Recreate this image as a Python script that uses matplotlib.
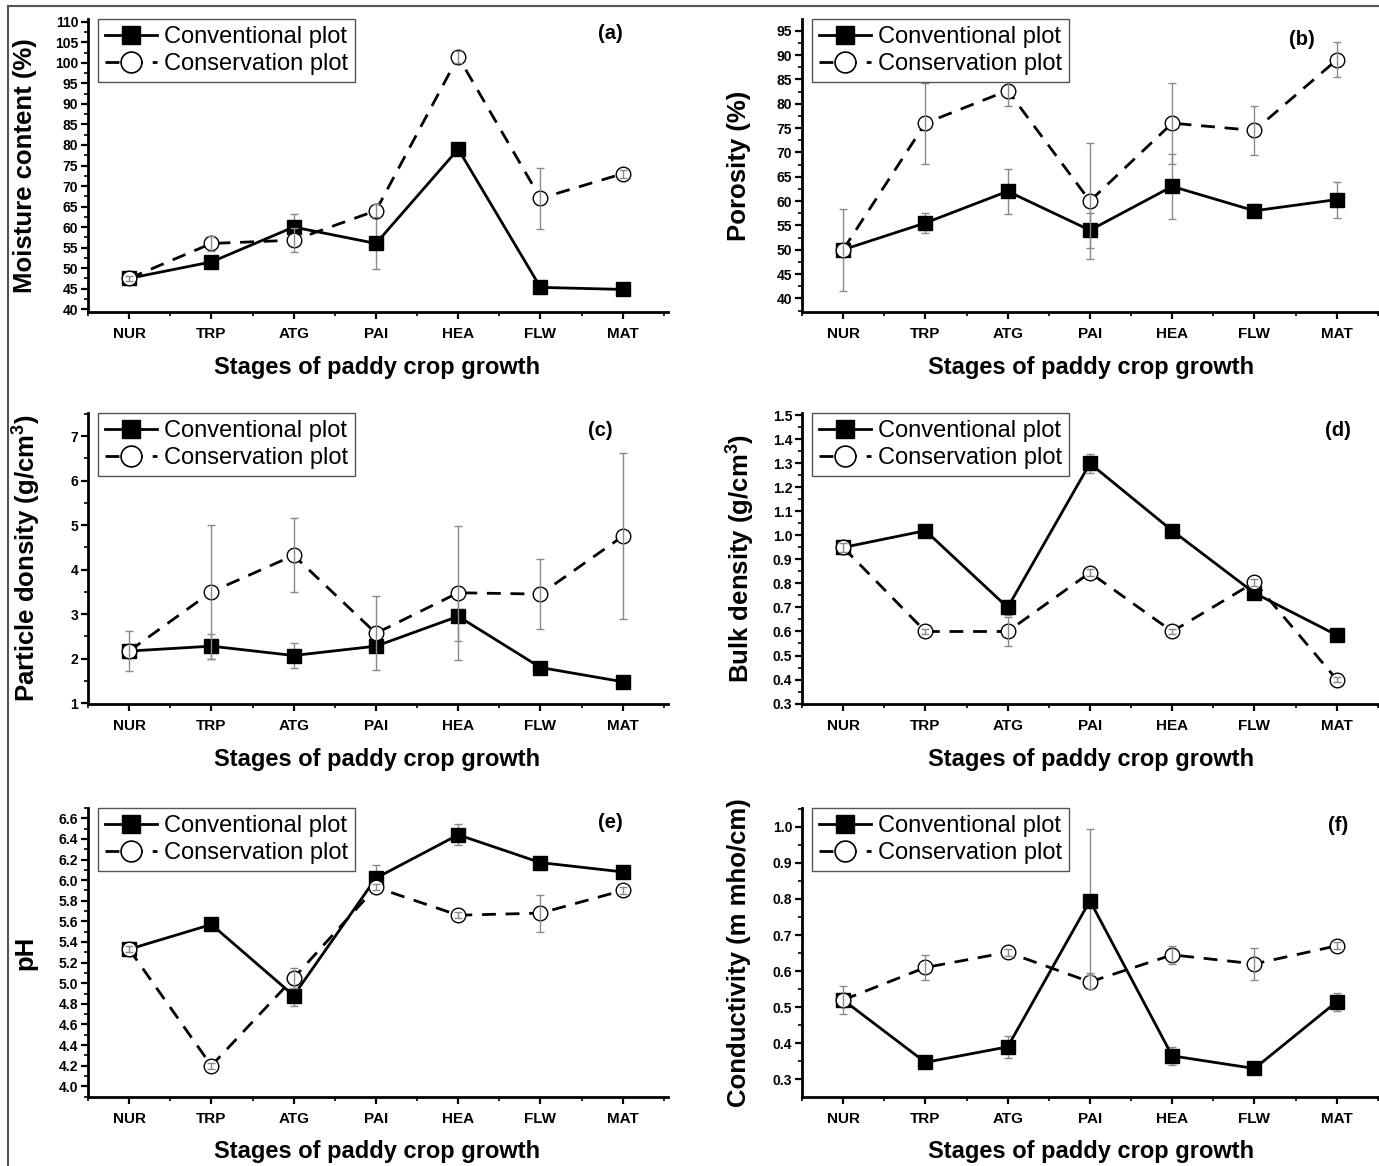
import matplotlib
matplotlib.use('Agg')
import matplotlib.pyplot as plt
from matplotlib.lines import Line2D
from matplotlib.ticker import MultipleLocator, FixedLocator, FormatStrFormatter
from matplotlib import font_manager as fm

_names = {f.name for f in fm.fontManager.ttflist}
NARROW = 'Liberation Sans Narrow' if 'Liberation Sans Narrow' in _names else 'Liberation Sans'
WIDE = 'Liberation Sans'

plt.rcParams['font.family'] = [WIDE, 'DejaVu Sans']
plt.rcParams['mathtext.fontset'] = 'custom'
plt.rcParams['mathtext.rm'] = WIDE + ':bold'
plt.rcParams['mathtext.bf'] = WIDE + ':bold'

# ---------------- data ----------------
stages = ['NUR', 'TRP', 'ATG', 'PAI', 'HEA', 'FLW', 'MAT']
series_names = ['Conventional plot', 'Conservation plot']
xlabel_text = 'Stages of paddy crop growth'

moist_conv = [47.5, 51.5, 60.0, 56.0, 79.0, 45.3, 44.8]
moist_conv_err = [0.8, 1.0, 3.2, 6.3, 0.8, 0.8, 0.6]
moist_cons = [47.5, 56.0, 56.8, 64.0, 101.5, 67.0, 73.0]
moist_cons_err = [0.6, 1.8, 3.0, 1.5, 1.5, 7.5, 1.0]

poro_conv = [50.0, 55.5, 62.0, 54.0, 63.0, 58.0, 60.3]
poro_conv_err = [0.8, 2.0, 4.6, 3.6, 6.6, 1.3, 3.7]
poro_cons = [50.0, 76.0, 82.7, 60.0, 76.0, 74.5, 89.0]
poro_cons_err = [8.4, 8.3, 3.2, 12.0, 8.3, 5.1, 3.6]

pd_conv = [2.17, 2.28, 2.07, 2.28, 2.95, 1.80, 1.48]
pd_conv_err = [0.05, 0.28, 0.28, 0.06, 0.55, 0.04, 0.03]
pd_cons = [2.17, 3.50, 4.32, 2.57, 3.48, 3.45, 4.75]
pd_cons_err = [0.45, 1.50, 0.83, 0.83, 1.50, 0.78, 1.87]

bd_conv = [0.95, 1.02, 0.70, 1.30, 1.02, 0.76, 0.585]
bd_conv_err = [0.015, 0.01, 0.03, 0.04, 0.01, 0.015, 0.01]
bd_cons = [0.95, 0.60, 0.60, 0.845, 0.60, 0.805, 0.40]
bd_cons_err = [0.02, 0.01, 0.06, 0.015, 0.01, 0.015, 0.01]

ph_conv = [5.33, 5.57, 4.88, 6.02, 6.44, 6.17, 6.08]
ph_conv_err = [0.03, 0.04, 0.10, 0.13, 0.10, 0.03, 0.03]
ph_cons = [5.33, 4.20, 5.05, 5.93, 5.66, 5.68, 5.90]
ph_cons_err = [0.03, 0.03, 0.10, 0.03, 0.03, 0.18, 0.03]

ec_conv = [0.52, 0.347, 0.39, 0.795, 0.365, 0.33, 0.515]
ec_conv_err = [0.01, 0.015, 0.03, 0.20, 0.025, 0.01, 0.025]
ec_cons = [0.52, 0.61, 0.652, 0.57, 0.645, 0.62, 0.67]
ec_cons_err = [0.04, 0.035, 0.01, 0.02, 0.025, 0.045, 0.01]

panels = [
    dict(conv=moist_conv, conv_err=moist_conv_err, cons=moist_cons, cons_err=moist_cons_err,
         ylabel='Moisture content (%)', tag='(a)', ylim=(39.3, 110.7), major=5, minor=2.5, fmt='%d',
         yticks_from=40, yticks_to=110),
    dict(conv=poro_conv, conv_err=poro_conv_err, cons=poro_cons, cons_err=poro_cons_err,
         ylabel='Porosity (%)', tag='(b)', ylim=(37.2, 97.4), major=5, minor=2.5, fmt='%d',
         yticks_from=40, yticks_to=95),
    dict(conv=pd_conv, conv_err=pd_conv_err, cons=pd_cons, cons_err=pd_cons_err,
         ylabel=r'Particle donsity (g/cm$^{3}$)', tag='(c)', ylim=(0.98, 7.52), major=1, minor=0.5,
         fmt='%d', yticks_from=1, yticks_to=7),
    dict(conv=bd_conv, conv_err=bd_conv_err, cons=bd_cons, cons_err=bd_cons_err,
         ylabel=r'Bulk density (g/cm$^{3}$)', tag='(d)', ylim=(0.298, 1.51), major=0.1, minor=0.05,
         fmt='%.1f', yticks_from=0.3, yticks_to=1.5),
    dict(conv=ph_conv, conv_err=ph_conv_err, cons=ph_cons, cons_err=ph_cons_err,
         ylabel='pH', tag='(e)', ylim=(3.896, 6.70), major=0.2, minor=0.1, fmt='%.1f',
         yticks_from=4.0, yticks_to=6.6),
    dict(conv=ec_conv, conv_err=ec_conv_err, cons=ec_cons, cons_err=ec_cons_err,
         ylabel='Conductivity (m mho/cm)', tag='(f)', ylim=(0.251, 1.052), major=0.1, minor=0.05,
         fmt='%.1f', yticks_from=0.3, yticks_to=1.0),
]

W, H = 1379, 1166
fig = plt.figure(figsize=(W / 100, H / 100), dpi=100)

# axes boxes in pixels: (left, top, right, bottom)
boxes = [
    (88, 19, 668, 312), (802, 19, 1382, 312),
    (88, 413, 668, 704), (802, 413, 1382, 704),
    (88, 808, 668, 1097), (802, 808, 1382, 1097),
]
tag_pos = [(0.90, 0.95), (0.862, 0.93), (0.883, 0.94), (0.924, 0.94), (0.90, 0.95), (0.924, 0.94)]

x = list(range(len(stages)))
for i, (p, b) in enumerate(zip(panels, boxes)):
    l, t, r, btm = b
    ax = fig.add_axes([l / W, 1 - btm / H, (r - l) / W, (btm - t) / H])
    for s in ['top', 'right']:
        ax.spines[s].set_visible(False)
    for s in ['left', 'bottom']:
        ax.spines[s].set_linewidth(2.0)

    # conventional
    ax.errorbar(x, p['conv'], yerr=p['conv_err'], fmt='none', ecolor='#8a8a8a',
                elinewidth=1.0, capsize=3, capthick=1.0, zorder=2)
    ax.plot(x, p['conv'], color='black', lw=2.0, marker='s', ms=9.5,
            mfc='black', mec='black', zorder=3)
    # conservation
    ax.plot(x, p['cons'], color='black', lw=2.0, dashes=(5, 3.5), marker='o', ms=10.5,
            mfc='white', mec='black', mew=1.0, zorder=4)
    ax.errorbar(x, p['cons'], yerr=p['cons_err'], fmt='none', ecolor='#8a8a8a',
                elinewidth=1.0, capsize=3, capthick=1.0, zorder=5)

    ax.set_xlim(-0.5, 6.55)
    ax.set_ylim(*p['ylim'])
    ax.set_xticks(x)
    ax.set_xticklabels(stages, fontfamily=NARROW, fontweight='bold', fontsize=11)
    ax.xaxis.set_minor_locator(FixedLocator([k + 0.5 for k in range(-1, 7)]))

    n = int(round((p['yticks_to'] - p['yticks_from']) / p['major']))
    yt = [p['yticks_from'] + k * p['major'] for k in range(n + 1)]
    ax.yaxis.set_major_locator(FixedLocator(yt))
    ax.yaxis.set_major_formatter(FormatStrFormatter(p['fmt']))
    ax.yaxis.set_minor_locator(MultipleLocator(p['minor']))
    for lab in ax.get_yticklabels():
        lab.set_fontfamily(NARROW)
        lab.set_fontweight('bold')
        lab.set_fontsize(10)

    ax.tick_params(axis='both', which='major', direction='out', length=5, width=1.6, pad=2)
    ax.tick_params(axis='both', which='minor', direction='out', length=3, width=1.2)
    ax.tick_params(axis='x', which='major', pad=6)

    ax.set_ylabel(p['ylabel'], fontsize=18.5, fontweight='bold', va='center')
    ax.yaxis.set_label_coords(-0.108, 0.5)
    ax.set_xlabel(xlabel_text, fontsize=17, fontfamily=NARROW, fontweight='bold', va='center')
    ax.xaxis.set_label_coords(0.498, -0.19)

    ax.text(tag_pos[i][0], tag_pos[i][1], p['tag'], transform=ax.transAxes,
            fontsize=14.5, fontweight='bold', fontfamily=NARROW, ha='center', va='center')

    handles = [
        Line2D([], [], color='black', lw=2.0, marker='s', ms=13, mfc='black', mec='black'),
        Line2D([], [], color='black', lw=2.0, dashes=(5, 3.5), marker='o', ms=15,
               mfc='white', mec='black', mew=1.2),
    ]
    leg = ax.legend(handles, series_names, loc='upper left', bbox_to_anchor=(0.017, 1.0),
                    borderaxespad=0, frameon=True, fancybox=False, framealpha=1,
                    edgecolor='#555555', prop={'family': NARROW, 'size': 17},
                    handlelength=2.2, handletextpad=0.3, labelspacing=0.2, borderpad=0.3)
    leg.get_frame().set_linewidth(1.0)

# figure frame lines (top and left)
fig.add_artist(Line2D([8 / W, 1.0], [1 - 6 / H, 1 - 6 / H], color='#555555', lw=1.5,
                      transform=fig.transFigure))
fig.add_artist(Line2D([8 / W, 8 / W], [0, 1 - 6 / H], color='#555555', lw=1.5,
                      transform=fig.transFigure))

fig.savefig('out.png', dpi=100)
